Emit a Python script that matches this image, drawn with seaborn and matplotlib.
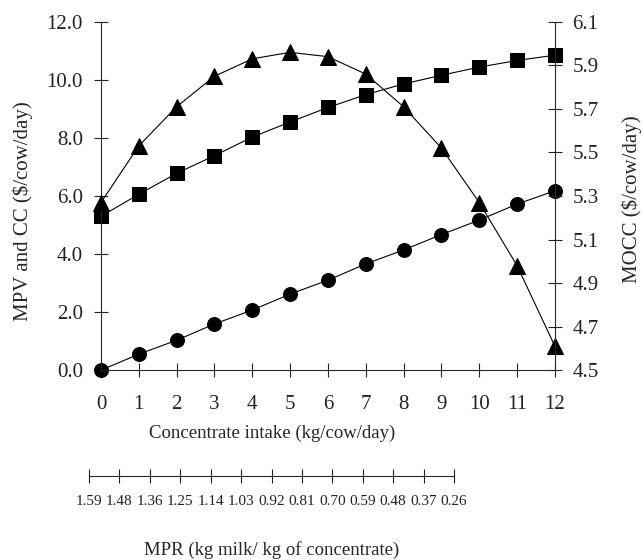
import numpy as np
import pandas as pd
import seaborn as sns
import matplotlib.pyplot as plt
from matplotlib.ticker import FormatStrFormatter

# Values
intake = [0, 1, 2, 3, 4, 5, 6, 7, 8, 9, 10, 11, 12]
mpv = [5.30, 6.06, 6.78, 7.39, 8.03, 8.55, 9.05, 9.49, 9.86, 10.16, 10.44, 10.67, 10.85]
cc = [0.00, 0.55, 1.03, 1.59, 2.07, 2.62, 3.10, 3.66, 4.14, 4.67, 5.17, 5.72, 6.18]
mocc = [5.27, 5.53, 5.71, 5.85, 5.93, 5.96, 5.94, 5.86, 5.71, 5.52, 5.27, 4.98, 4.61]
mpr_labels = ['1.59', '1.48', '1.36', '1.25', '1.14', '1.03', '0.92',
              '0.81', '0.70', '0.59', '0.48', '0.37', '0.26']

sns.set_style('ticks')
plt.rcParams['font.family'] = ['Liberation Serif', 'DejaVu Serif']
plt.rcParams['axes.linewidth'] = 0.8

df = pd.DataFrame({'intake': intake, 'MPV': mpv, 'CC': cc, 'MOCC': mocc})

fig = plt.figure(figsize=(6.43, 5.60), dpi=100)
ax = fig.add_axes([0.157, 0.339, 0.706, 0.622])

line_kw = dict(color='black', linewidth=0.8, markeredgecolor='black', clip_on=False)
sns.lineplot(data=df, x='intake', y='MPV', marker='s', markersize=10, ax=ax, **line_kw)
sns.lineplot(data=df, x='intake', y='CC', marker='o', markersize=10, ax=ax, **line_kw)

ax2 = ax.twinx()
sns.lineplot(data=df, x='intake', y='MOCC', marker='^', markersize=11, ax=ax2, **line_kw)

ax.set_xlim(0, 12)
ax.set_ylim(0, 12)
ax.set_xticks(intake)
ax.set_yticks(np.arange(0, 12.1, 2))
ax.yaxis.set_major_formatter(FormatStrFormatter('%.1f'))
ax2.set_ylim(4.5, 6.1)
ax2.set_yticks(np.arange(4.5, 6.11, 0.2))
ax2.yaxis.set_major_formatter(FormatStrFormatter('%.1f'))

for a in (ax, ax2):
    a.spines['top'].set_visible(False)
    a.tick_params(direction='inout', length=10, width=0.8, labelsize=15, colors='#222222')
ax.spines['right'].set_visible(False)
ax2.spines['left'].set_visible(False)
ax2.spines['bottom'].set_visible(False)
ax.tick_params(axis='y', pad=8)
ax.tick_params(axis='x', pad=13)
ax2.tick_params(axis='y', pad=7.5)

ax.set_xlabel('Concentrate intake (kg/cow/day)', fontsize=13.5)
ax.xaxis.set_label_coords(0.376, -0.157)
ax.set_ylabel('MPV and CC ($/cow/day)', fontsize=15)
ax.yaxis.set_label_coords(-0.150, 0.458)
ax2.set_ylabel('MOCC ($/cow/day)', fontsize=15)
ax2.yaxis.set_label_coords(1.146, 0.49)

# Secondary scale: MPR
ax3 = fig.add_axes([0.1384, 0.15, 0.5677, 0.001])
ax3.set_xlim(0, 12)
ax3.set_xticks(intake)
ax3.set_xticklabels(mpr_labels)
ax3.set_yticks([])
for s in ('top', 'left', 'right'):
    ax3.spines[s].set_visible(False)
ax3.set_facecolor('none')
ax3.tick_params(axis='x', direction='inout', length=10, width=0.8, labelsize=11, pad=9, colors='#222222')
fig.text(272 / 643, 1 - 550 / 560, 'MPR (kg milk/ kg of concentrate)', fontsize=13.5,
         ha='center', va='center')

fig.savefig('out.png', dpi=100)
